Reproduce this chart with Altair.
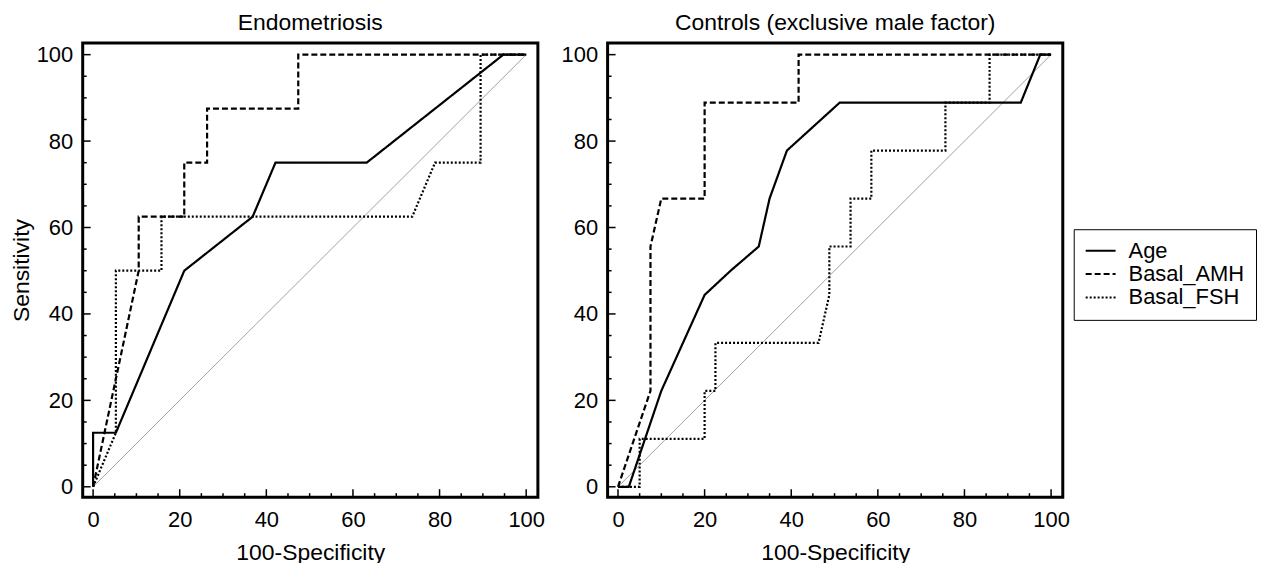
import altair as alt
import pandas as pd

# ---------------- data ----------------
SERIES = ["Age", "Basal_AMH", "Basal_FSH"]

ENDO_AGE_X = [0, 0, 5.26, 21.05, 36.84, 42.11, 63.16, 94.74, 100]
ENDO_AGE_Y = [0, 12.5, 12.5, 50, 62.5, 75, 75, 100, 100]
ENDO_AMH_X = [0, 10.53, 10.53, 21.05, 21.05, 26.32, 26.32, 47.37, 47.37, 100]
ENDO_AMH_Y = [0, 50, 62.5, 62.5, 75, 75, 87.5, 87.5, 100, 100]
ENDO_FSH_X = [0, 5.26, 5.26, 15.79, 15.79, 73.68, 78.95, 89.47, 89.47, 100]
ENDO_FSH_Y = [0, 12.5, 50, 50, 62.5, 62.5, 75, 75, 100, 100]

CTRL_AGE_X = [0, 2.5, 10, 20, 26, 32.5, 35, 39, 51.2, 93, 97.5, 100]
CTRL_AGE_Y = [0, 0, 22.2, 44.4, 50, 55.6, 66.7, 77.8, 88.9, 88.9, 100, 100]
CTRL_AMH_X = [0, 7.5, 7.5, 10, 20, 20, 41.7, 41.7, 100]
CTRL_AMH_Y = [0, 22.2, 55.6, 66.7, 66.7, 88.9, 88.9, 100, 100]
CTRL_FSH_X = [0, 5, 5, 20, 20, 22.5, 22.5, 46.3, 48.8, 48.8, 53.7, 53.7,
              58.5, 58.5, 75.6, 75.6, 85.8, 85.8, 100]
CTRL_FSH_Y = [0, 0, 11.1, 11.1, 22.2, 22.2, 33.3, 33.3, 44.4, 55.6, 55.6, 66.7,
              66.7, 77.8, 77.8, 88.9, 88.9, 100, 100]

DIAG_X = [0, 100]
DIAG_Y = [0, 100]

TICK_LABELS = [0, 20, 40, 60, 80, 100]
MINOR_TICKS = [5, 10, 15, 25, 30, 35, 45, 50, 55, 65, 70, 75, 85, 90, 95]

PANELS = ["Endometriosis", "Controls (exclusive male factor)"]

# ---------------- build tables ----------------
rows = []
def add(panel, series, xs, ys):
    for i, (a, b) in enumerate(zip(xs, ys)):
        rows.append({"panel": panel, "series": series, "x": a, "y": b, "idx": i})

add(PANELS[0], "Age", ENDO_AGE_X, ENDO_AGE_Y)
add(PANELS[0], "Basal_AMH", ENDO_AMH_X, ENDO_AMH_Y)
add(PANELS[0], "Basal_FSH", ENDO_FSH_X, ENDO_FSH_Y)
add(PANELS[1], "Age", CTRL_AGE_X, CTRL_AGE_Y)
add(PANELS[1], "Basal_AMH", CTRL_AMH_X, CTRL_AMH_Y)
add(PANELS[1], "Basal_FSH", CTRL_FSH_X, CTRL_FSH_Y)
df = pd.DataFrame(rows)

diag_df = pd.DataFrame({"x": DIAG_X, "y": DIAG_Y})
major_df = pd.DataFrame({"x": TICK_LABELS, "y": TICK_LABELS})
minor_df = pd.DataFrame({"x": MINOR_TICKS, "y": MINOR_TICKS})

W, H = 457, 456
FONT = "Liberation Sans"
DOMAIN = [-2.4, 102.7]
DASHES = [[1, 0], [6, 3], [2, 2]]


def panel(name, ytitle):
    xs = alt.Scale(domain=DOMAIN, nice=False, zero=False)
    ys = alt.Scale(domain=DOMAIN, nice=False, zero=False)
    xaxis = alt.Axis(values=TICK_LABELS, title="100-Specificity", labelPadding=12,
                     titlePadding=12)
    if ytitle:
        yaxis = alt.Axis(values=TICK_LABELS, title=ytitle, labelPadding=10, titlePadding=3)
    else:
        yaxis = alt.Axis(values=TICK_LABELS, title=None, labelPadding=10)
    X = alt.X("x:Q", scale=xs, axis=xaxis)
    Y = alt.Y("y:Q", scale=ys, axis=yaxis)

    d = df[df.panel == name]

    diag = alt.Chart(diag_df).mark_line(color="#8a8a8a", strokeWidth=0.8).encode(x=X, y=Y)

    lines = alt.Chart(d).mark_line(color="black", strokeWidth=2.2).encode(
        x=X, y=Y,
        strokeDash=alt.StrokeDash(
            "series:N",
            scale=alt.Scale(domain=SERIES, range=DASHES),
            legend=alt.Legend(title=None, orient="none", legendX=995, legendY=187),
        ),
        detail="series:N",
        order="idx:Q",
    )

    xmaj = alt.Chart(major_df).mark_rule(color="black", strokeWidth=1.5).encode(
        x=X, y=alt.value(H), y2=alt.value(H - 8))
    xmin = alt.Chart(minor_df).mark_rule(color="black", strokeWidth=1.5).encode(
        x=X, y=alt.value(H), y2=alt.value(H - 4))
    ymaj = alt.Chart(major_df).mark_rule(color="black", strokeWidth=1.5).encode(
        y=Y, x=alt.value(0), x2=alt.value(8))
    ymin = alt.Chart(minor_df).mark_rule(color="black", strokeWidth=1.5).encode(
        y=Y, x=alt.value(0), x2=alt.value(4))

    return alt.layer(diag, xmaj, xmin, ymaj, ymin, lines).properties(
        width=W, height=H,
        title=alt.TitleParams(name, fontSize=23, font=FONT, fontWeight="normal",
                              color="black", offset=8, frame="group", anchor="middle"),
    )


chart = alt.hconcat(panel(PANELS[0], "Sensitivity"), panel(PANELS[1], None), spacing=12)
chart = chart.resolve_scale(strokeDash="shared").properties(
    padding={"left": 0, "top": 1, "right": 0, "bottom": 0}
).configure_view(
    stroke="black", strokeWidth=3
).configure_axis(
    domain=False, ticks=False, tickSize=0, grid=False,
    labelFont=FONT, labelFontSize=22, labelColor="black",
    titleFont=FONT, titleFontSize=23, titleFontWeight="normal", titleColor="black",
).configure_legend(
    labelFont=FONT, labelFontSize=22, labelColor="black", labelOffset=12,
    symbolType="stroke", symbolSize=900, symbolStrokeWidth=2, symbolStrokeColor="black",
    strokeColor="black", fillColor="white", padding=11, rowPadding=0.5, clipHeight=21,
)

chart.save("out.html", embed_options={"renderer": "svg", "actions": False})
